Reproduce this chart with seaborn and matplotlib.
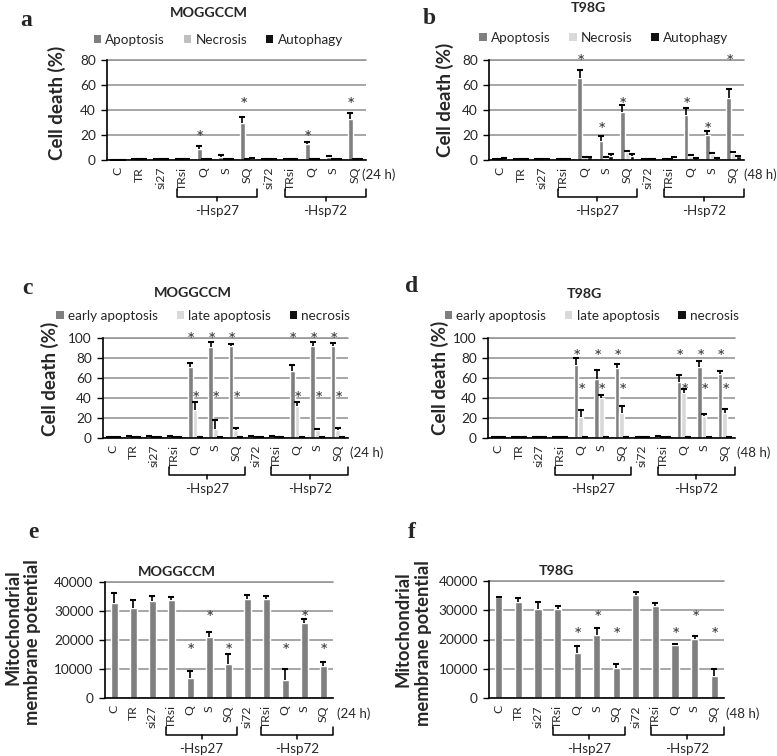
import numpy as np
import pandas as pd
import matplotlib
matplotlib.use("Agg")
import matplotlib.pyplot as plt
import seaborn as sns
from matplotlib.patches import Patch
from matplotlib.transforms import blended_transform_factory

# ---------------- data ----------------
conditions = ["C", "TR", "si27", "TRsi", "Q", "S", "SQ", "si72", "TRsi", "Q", "S", "SQ"]
groups = ["-Hsp27", "-Hsp72"]

# a: MOGGCCM 24 h
a_apoptosis    = [0.3, 0.5, 0.5, 0.6, 8.8, 2.7, 29.9, 0.5, 0.6, 12.8, 2.1, 32.8]
a_apoptosis_sd = [0.1, 0.2, 0.2, 0.2, 2.4, 1.3, 4.2, 0.2, 0.2, 1.3, 1.4, 5.1]
a_necrosis     = [0.3, 0.6, 0.6, 0.5, 0.8, 0.8, 0.8, 0.5, 0.6, 0.8, 0.8, 0.8]
a_necrosis_sd  = [0.1, 0.1, 0.1, 0.1, 0.2, 0.2, 0.2, 0.1, 0.1, 0.2, 0.2, 0.2]
a_autophagy    = [0.3, 0.6, 0.6, 0.6, 1.0, 1.0, 1.2, 0.5, 0.8, 1.0, 1.0, 1.0]
a_autophagy_sd = [0.1, 0.1, 0.1, 0.1, 0.2, 0.2, 0.2, 0.1, 0.1, 0.2, 0.2, 0.2]
a_star_idx = [4, 6, 9, 11]
a_star_y   = [21.9, 48.5, 21.9, 48.5]

# b: T98G 48 h
b_apoptosis    = [1.0, 1.0, 1.0, 1.0, 65.3, 14.9, 38.7, 1.0, 0.6, 36.3, 20.0, 49.3]
b_apoptosis_sd = [0.2, 0.2, 0.2, 0.2, 6.7, 4.0, 5.3, 0.2, 0.2, 5.3, 3.0, 7.2]
b_necrosis     = [0.8, 0.8, 0.8, 0.8, 2.1, 1.6, 6.1, 0.8, 0.5, 3.5, 4.8, 5.9]
b_necrosis_sd  = [0.2, 0.2, 0.2, 0.2, 0.6, 0.5, 1.4, 0.2, 0.2, 0.8, 0.5, 0.8]
b_autophagy    = [1.5, 1.0, 1.0, 1.0, 2.1, 3.0, 3.5, 1.0, 2.0, 1.6, 1.6, 2.9]
b_autophagy_sd = [0.3, 0.2, 0.2, 0.2, 0.6, 1.5, 1.3, 0.2, 0.3, 0.3, 0.3, 0.6]
b_star_idx = [4, 5, 6, 9, 10, 11]
b_star_y   = [82.7, 28.8, 48.3, 48.3, 28.8, 82.7]

# c: MOGGCCM 24 h
c_early       = [0.3, 1.0, 1.0, 1.0, 70.7, 90.7, 91.3, 1.0, 1.0, 66.7, 91.7, 91.3]
c_early_sd    = [0.1, 0.3, 0.3, 0.3, 4.0, 5.0, 2.7, 0.3, 0.3, 6.3, 4.0, 3.4]
c_late        = [0.3, 0.3, 0.3, 0.3, 28.0, 9.0, 7.3, 0.3, 0.3, 31.3, 7.3, 7.3]
c_late_sd     = [0.1, 0.1, 0.1, 0.1, 7.7, 8.3, 2.0, 0.1, 0.1, 4.4, 1.4, 2.0]
c_necrosis    = [0.3, 0.5, 0.5, 0.4, 0.3, 0.3, 0.3, 0.5, 0.4, 0.3, 0.3, 0.3]
c_necrosis_sd = [0.1, 0.1, 0.1, 0.1, 0.1, 0.1, 0.1, 0.1, 0.1, 0.1, 0.1, 0.1]
c_star_idx = [4, 5, 6, 9, 10, 11]
c_star_early_y = [103.3] * 6
c_star_late_y  = [44.7] * 6

# d: T98G 48 h
d_early       = [0.5, 0.5, 0.8, 0.8, 72.7, 58.7, 69.3, 0.5, 1.0, 56.0, 71.0, 63.3]
d_early_sd    = [0.1, 0.1, 0.2, 0.2, 7.3, 9.0, 4.4, 0.1, 0.3, 6.7, 6.0, 3.7]
d_late        = [0.3, 0.3, 0.5, 0.5, 21.0, 39.3, 24.3, 0.3, 0.5, 44.3, 21.7, 24.3]
d_late_sd     = [0.1, 0.1, 0.1, 0.1, 6.7, 3.0, 7.7, 0.1, 0.1, 4.0, 2.0, 4.4]
d_necrosis    = [0.3, 0.3, 0.3, 0.3, 0.3, 0.3, 0.3, 0.3, 0.3, 0.3, 0.3, 0.3]
d_necrosis_sd = [0.1, 0.1, 0.1, 0.1, 0.1, 0.1, 0.1, 0.1, 0.1, 0.1, 0.1, 0.1]
d_star_idx = [4, 5, 6, 9, 10, 11]
d_star_early_y = [86.7] * 6
d_star_late_y  = [52.0] * 6

# e: MOGGCCM mitochondrial membrane potential 24 h
e_mmp    = [32800, 30900, 33500, 33700, 6900, 20900, 11800, 34100, 34000, 6300, 25900, 11200]
e_mmp_sd = [3200, 2800, 1600, 900, 2400, 2000, 3300, 1300, 1100, 3600, 1200, 1100]
e_star_idx = [4, 5, 6, 9, 10, 11]
e_star_y   = [18000, 29500, 18000, 18000, 29500, 18000]

# f: T98G mitochondrial membrane potential 48 h
f_mmp    = [34300, 32900, 30300, 30300, 15500, 21500, 10200, 35000, 31400, 18100, 20200, 7700]
f_mmp_sd = [200, 1300, 2600, 1200, 2300, 2300, 1500, 1000, 900, 300, 1100, 2300]
f_star_idx = [4, 5, 6, 9, 10, 11]
f_star_y   = [23500, 29200, 23500, 23500, 29200, 23500]

# ---------------- style ----------------
sns.set_style("white")
plt.rcParams["font.family"] = ["Lato", "DejaVu Sans"]

W, H = 777, 756
fig = plt.figure(figsize=(W / 100, H / 100), dpi=100)

DARK = "#7f7f7f"
GRID = "#979797"
BLACK = "#111111"
FS_Y = 9.8      # y tick labels
FS_X = 8.8      # x tick labels
FS_LEG = 9.7    # legend
FS_GRP = 9.6    # bracket labels and hours


def rect(l, r, t, b):
    return [l / W, 1 - b / H, (r - l) / W, (b - t) / H]


def fx(x):
    return x / W


def fy(y):
    return 1 - y / H


def panel(box, series, colors, width, ylim, yticks, stars, hours,
          legend_pos=None, capsize=2.0):
    ax = fig.add_axes(rect(*box))
    h_px = box[3] - box[2]
    ids = [f"{i}" for i in range(len(conditions))]
    rows = []
    for name, vals, sds in series:
        for i, v in enumerate(vals):
            rows.append({"pos": ids[i], "series": name, "value": v})
    df = pd.DataFrame(rows)
    names = [s[0] for s in series]
    sns.barplot(data=df, x="pos", y="value", hue="series", order=ids,
                hue_order=names, palette=colors, errorbar=None, width=width,
                gap=0, saturation=1, legend=False, ax=ax, zorder=3)
    # error bars (upper only)
    centers = {}
    for cont, (name, vals, sds) in zip(ax.containers, series):
        xs = np.array([b.get_x() + b.get_width() / 2 for b in cont])
        hs = np.array([b.get_height() for b in cont])
        centers[name] = xs
        eb = ax.errorbar(xs, hs, yerr=[np.zeros_like(hs), np.array(sds)],
                         fmt="none", ecolor="black", elinewidth=1.2,
                         capsize=capsize, capthick=1.5, zorder=4)
        eb[1][0].set_visible(False)
    # asterisks
    for name, idx, ys in stars:
        for i, y in zip(idx, ys):
            ax.annotate("*", (centers[name][i], y), xytext=(0.8, -8.3),
                        textcoords="offset points", ha="center",
                        va="baseline", fontsize=14, color="#383838",
                        annotation_clip=False)
    ax.set_ylim(*ylim)
    ax.set_yticks(yticks)
    ax.set_yticklabels([f"{t:g}" if t < 1000 else f"{int(t)}" for t in yticks])
    ax.set_xlim(-0.5, len(conditions) - 0.5)
    ax.set_xticks(range(len(conditions)))
    ax.set_xticklabels(conditions, rotation=90)
    ax.set_xlabel("")
    ax.set_ylabel("")
    ax.grid(axis="y", color=GRID, linewidth=1.2, zorder=0)
    ax.set_axisbelow(True)
    for s in ["top", "right"]:
        ax.spines[s].set_visible(False)
    ax.axhline(ylim[1], color=GRID, linewidth=1.2, zorder=1, clip_on=False)
    for s in ["left", "bottom"]:
        ax.spines[s].set_color("black")
        ax.spines[s].set_linewidth(1.2)
        ax.spines[s].set_zorder(5)
    ax.tick_params(axis="y", length=4, width=1, pad=4, labelsize=FS_Y,
                   color="black", left=True)
    ax.tick_params(axis="x", length=0, pad=5, labelsize=FS_X)
    # (24 h)
    ax.text(hours[1], -15 / h_px, hours[0], transform=ax.transAxes,
            ha="left", va="center", fontsize=hours[2])
    # brackets
    tr = blended_transform_factory(ax.transData, ax.transAxes)
    yb, yu, yn, yl = -37 / h_px, -29 / h_px, -41 / h_px, -51 / h_px
    for (x0, x1), g in zip([(2.75, 6.45), (7.75, 11.5)], groups):
        ax.plot([x0, x0, x1, x1], [yu, yb, yb, yu], color="black", lw=1.1,
                transform=tr, clip_on=False)
        xm = (x0 + x1) / 2
        ax.plot([xm, xm], [yb, yn], color="black", lw=1.1, transform=tr,
                clip_on=False)
        ax.text(xm, yl, g, transform=tr, ha="center", va="center",
                fontsize=FS_GRP)
    if legend_pos is not None:
        handles = [Patch(facecolor=c, edgecolor="none") for c in colors]
        ax.legend(handles, names, loc="center", bbox_to_anchor=legend_pos,
                  ncol=3, frameon=False, handlelength=0.55, handleheight=0.55,
                  handletextpad=0.3, columnspacing=1.4, fontsize=FS_LEG,
                  borderpad=0)
    return ax


# panel a
panel((107, 366, 60, 160),
      [("Apoptosis", a_apoptosis, a_apoptosis_sd),
       ("Necrosis", a_necrosis, a_necrosis_sd),
       ("Autophagy", a_autophagy, a_autophagy_sd)],
      [DARK, "#bfbfbf", BLACK], 0.68, (0, 80), [0, 20, 40, 60, 80],
      [("Apoptosis", a_star_idx, a_star_y)], ("(24 h)", 0.985, FS_GRP),
      legend_pos=(0.43, 1.2))

# panel b
panel((489, 744, 60, 160),
      [("Apoptosis", b_apoptosis, b_apoptosis_sd),
       ("Necrosis", b_necrosis, b_necrosis_sd),
       ("Autophagy", b_autophagy, b_autophagy_sd)],
      [DARK, "#d9d9d9", BLACK], 0.68, (0, 80), [0, 20, 40, 60, 80],
      [("Apoptosis", b_star_idx, b_star_y)], ("(48 h)", 1.0, 9.4),
      legend_pos=(0.45, 1.22))

# panel c
panel((103, 348, 337.7, 437.7),
      [("early apoptosis", c_early, c_early_sd),
       ("late apoptosis", c_late, c_late_sd),
       ("necrosis", c_necrosis, c_necrosis_sd)],
      [DARK, "#d9d9d9", BLACK], 0.68, (0, 100), [0, 20, 40, 60, 80, 100],
      [("early apoptosis", c_star_idx, c_star_early_y),
       ("late apoptosis", c_star_idx, c_star_late_y)],
      ("(24 h)", 1.008, FS_GRP), legend_pos=(0.41, 1.22))

# panel d
panel((488, 735, 337.7, 437.7),
      [("early apoptosis", d_early, d_early_sd),
       ("late apoptosis", d_late, d_late_sd),
       ("necrosis", d_necrosis, d_necrosis_sd)],
      [DARK, "#d9d9d9", BLACK], 0.68, (0, 100), [0, 20, 40, 60, 80, 100],
      [("early apoptosis", d_star_idx, d_star_early_y),
       ("late apoptosis", d_star_idx, d_star_late_y)],
      ("(48 h)", 1.008, FS_GRP), legend_pos=(0.42, 1.22))

# panel e
panel((104.7, 332.7, 581.7, 698.3),
      [("MMP", e_mmp, e_mmp_sd)], [DARK], 0.37, (0, 40000),
      [0, 10000, 20000, 30000, 40000],
      [("MMP", e_star_idx, e_star_y)], ("(24 h)", 1.018, FS_GRP), capsize=2.5)

# panel f
panel((489, 724, 580.7, 698.3),
      [("MMP", f_mmp, f_mmp_sd)], [DARK], 0.37, (0, 40000),
      [0, 10000, 20000, 30000, 40000],
      [("MMP", f_star_idx, f_star_y)], ("(48 h)", 1.01, FS_GRP), capsize=2.5)

# titles
for (x, y, t) in [(209, 13, "MOGGCCM"), (588, 8, "T98G"), (193, 293, "MOGGCCM"),
                  (584, 294, "T98G"), (177, 572, "MOGGCCM"), (556, 571, "T98G")]:
    fig.text(fx(x), fy(y), t, ha="center", va="center", fontsize=10.3,
             fontweight="bold")

# panel letters
for (x, y, t) in [(26, 21, "a"), (429, 18, "b"), (27, 288, "c"),
                  (412, 287, "d"), (33, 533, "e"), (412, 532, "f")]:
    fig.text(fx(x), fy(y), t, ha="center", va="center", fontsize=17,
             fontweight="bold", family=["Liberation Serif", "DejaVu Serif"])

# y labels
for (x, y) in [(57, 102.5), (445, 99.5), (50, 379), (440, 377.5)]:
    fig.text(fx(x), fy(y), "Cell death (%)", rotation=90, ha="center",
             va="center", fontsize=13.5, fontweight="bold")
for (x1, y1, x2, y2) in [(13, 627, 33, 642), (403, 629, 423, 643)]:
    fig.text(fx(x1), fy(y1), "Mitochondrial", rotation=90, ha="center",
             va="center", fontsize=13.2, fontweight="bold")
    fig.text(fx(x2), fy(y2), "membrane potential", rotation=90, ha="center",
             va="center", fontsize=13.2, fontweight="bold")

fig.savefig("out.png", dpi=100)
